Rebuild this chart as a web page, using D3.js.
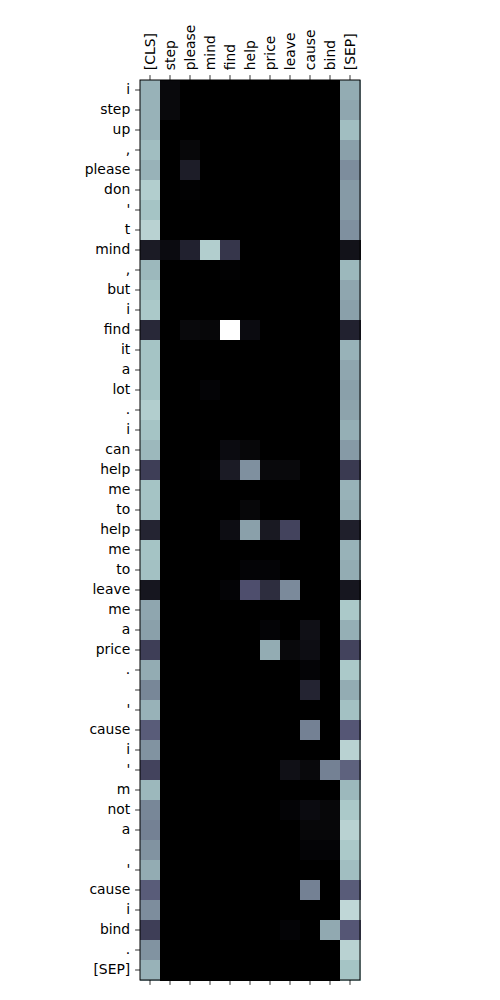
<!DOCTYPE html>
<html><head><meta charset="utf-8">
<script src="https://cdn.jsdelivr.net/npm/d3@7"></script>
<style>body{margin:0;background:#fff;} svg{display:block;}</style>
</head><body>
<svg id="chart" width="500" height="1000"></svg>
<script>
const colLabels = ["[CLS]","step","please","mind","find","help","price","leave","cause","bind","[SEP]"];
const rowLabels = ["i","step","up",",","please","don","'","t","mind",",","but","i","find","it","a","lot",".","i","can","help","me","to","help","me","to","leave","me","a","price",".","","'","cause","i","'","m","not","a","","'","cause","i","bind",".","[SEP]"];
// attention weights per row: [CLS, step, please, mind, find, help, price, leave, cause, bind, SEP]
const values = [
 [0.68,0.04,0,0,0,0,0,0,0,0,0.66],
 [0.68,0.04,0,0,0,0,0,0,0,0,0.64],
 [0.68,0,0,0,0,0,0,0,0,0,0.72],
 [0.72,0,0.03,0,0,0,0,0,0,0,0.62],
 [0.68,0,0.13,0,0,0,0,0,0,0,0.56],
 [0.78,0,0.01,0,0,0,0,0,0,0,0.60],
 [0.74,0,0,0,0,0,0,0,0,0,0.60],
 [0.80,0,0,0,0,0,0,0,0,0,0.57],
 [0.12,0.05,0.15,0.78,0.24,0,0,0,0,0,0.08],
 [0.70,0,0,0,0.01,0,0,0,0,0,0.70],
 [0.74,0,0,0,0,0,0,0,0,0,0.64],
 [0.76,0,0,0,0,0,0,0,0,0,0.62],
 [0.18,0,0.04,0.03,1.0,0.05,0,0,0,0,0.15],
 [0.74,0,0,0,0,0,0,0,0,0,0.68],
 [0.74,0,0,0,0,0,0,0,0,0,0.64],
 [0.74,0,0,0.02,0,0,0,0,0,0,0.62],
 [0.78,0,0,0,0,0,0,0,0,0,0.63],
 [0.74,0,0,0,0,0,0,0,0,0,0.67],
 [0.70,0,0,0,0.05,0.03,0,0,0,0,0.60],
 [0.28,0,0,0.01,0.12,0.57,0.04,0.04,0,0,0.26],
 [0.74,0,0,0,0,0,0,0,0,0,0.68],
 [0.73,0,0,0,0,0.03,0,0,0,0,0.66],
 [0.16,0,0,0,0.06,0.62,0.11,0.30,0,0,0.14],
 [0.74,0,0,0,0,0,0,0,0,0,0.68],
 [0.73,0,0,0,0,0.02,0.02,0,0,0,0.66],
 [0.10,0,0,0,0.02,0.35,0.20,0.55,0,0,0.10],
 [0.64,0,0,0,0,0,0,0,0,0,0.76],
 [0.62,0,0,0,0,0,0.02,0,0.07,0,0.67],
 [0.28,0,0,0,0,0,0.66,0.04,0.06,0,0.30],
 [0.66,0,0,0,0,0,0,0,0.02,0,0.76],
 [0.54,0,0,0,0,0,0,0,0.16,0,0.66],
 [0.68,0,0,0,0,0,0,0,0,0,0.73],
 [0.40,0,0,0,0,0,0,0,0.52,0,0.38],
 [0.58,0,0,0,0,0,0,0,0,0,0.80],
 [0.30,0,0,0,0,0,0,0.07,0.04,0.52,0.42],
 [0.70,0,0,0,0,0,0,0,0,0,0.70],
 [0.54,0,0,0,0,0,0,0.02,0.05,0.03,0.76],
 [0.52,0,0,0,0,0,0,0,0.03,0.03,0.80],
 [0.58,0,0,0,0,0,0,0,0.02,0.02,0.76],
 [0.66,0,0,0,0,0,0,0,0,0,0.72],
 [0.40,0,0,0,0,0,0,0,0.52,0,0.40],
 [0.56,0,0,0,0,0,0,0,0,0,0.82],
 [0.28,0,0,0,0,0,0,0.02,0,0.65,0.38],
 [0.58,0,0,0,0,0,0,0,0,0,0.80],
 [0.68,0,0,0,0,0,0,0,0,0,0.74]
];

// matplotlib "bone" colormap
function lerpSeg(seg, v){
  for(let i=1;i<seg.length;i++){
    if(v<=seg[i][0]){
      const [x0,y0]=seg[i-1],[x1,y1]=seg[i];
      return y0+(y1-y0)*(v-x0)/(x1-x0);
    }
  }
  return seg[seg.length-1][1];
}
const boneR=[[0,0],[0.746032,0.652778],[1,1]];
const boneG=[[0,0],[0.365079,0.319444],[0.746032,0.777778],[1,1]];
const boneB=[[0,0],[0.365079,0.444444],[1,1]];
function bone(v){
  v=Math.max(0,Math.min(1,v));
  const r=Math.round(255*lerpSeg(boneR,v)),g=Math.round(255*lerpSeg(boneG,v)),b=Math.round(255*lerpSeg(boneB,v));
  return `rgb(${r},${g},${b})`;
}

const svg=d3.select("#chart");
const mLeft=140, mTop=80, W=220, H=900;
const x=d3.scaleBand().domain(d3.range(colLabels.length)).range([mLeft,mLeft+W]).padding(0);
const y=d3.scaleBand().domain(d3.range(rowLabels.length)).range([mTop,mTop+H]).padding(0);
const flat=values.flat();
const color=d3.scaleLinear().domain([d3.min(flat),d3.max(flat)]).range([0,1]);

const cells=[];
values.forEach((row,i)=>row.forEach((v,j)=>cells.push({i,j,v})));
svg.append("g").selectAll("rect").data(cells).join("rect")
  .attr("x",d=>x(d.j)).attr("y",d=>y(d.i))
  .attr("width",x.bandwidth()+0.5).attr("height",y.bandwidth()+0.5)
  .attr("fill",d=>bone(color(d.v)))
  .attr("shape-rendering","crispEdges");

const font='"DejaVu Sans", sans-serif';
// left axis
const yAxis=d3.axisLeft(y).tickSize(4.9).tickPadding(4.9).tickFormat(i=>rowLabels[i]);
const gy=svg.append("g").attr("transform",`translate(${mLeft},0)`).call(yAxis);
gy.selectAll("text").style("font-family",font).style("font-size","13.9px").attr("fill","#000");
// top axis
const xTop=d3.axisTop(x).tickSize(4.9).tickPadding(4.9).tickFormat(j=>colLabels[j]);
const gx=svg.append("g").attr("transform",`translate(0,${mTop})`).call(xTop);
gx.selectAll("text").style("font-family",font).style("font-size","13.9px").attr("fill","#000")
  .attr("transform","rotate(-90)").attr("text-anchor","start").attr("dy","0.35em")
  .attr("x",9.8).attr("y",0);
// bottom ticks only
const xBot=d3.axisBottom(x).tickSize(4.9).tickFormat("");
svg.append("g").attr("transform",`translate(0,${mTop+H})`).call(xBot);
svg.selectAll(".domain").remove();
svg.selectAll(".tick line").attr("stroke","#000").attr("stroke-width",0.8);
// frame
svg.append("rect").attr("x",mLeft).attr("y",mTop).attr("width",W).attr("height",H)
  .attr("fill","none").attr("stroke","#000").attr("stroke-width",1);
</script>
</body></html>
